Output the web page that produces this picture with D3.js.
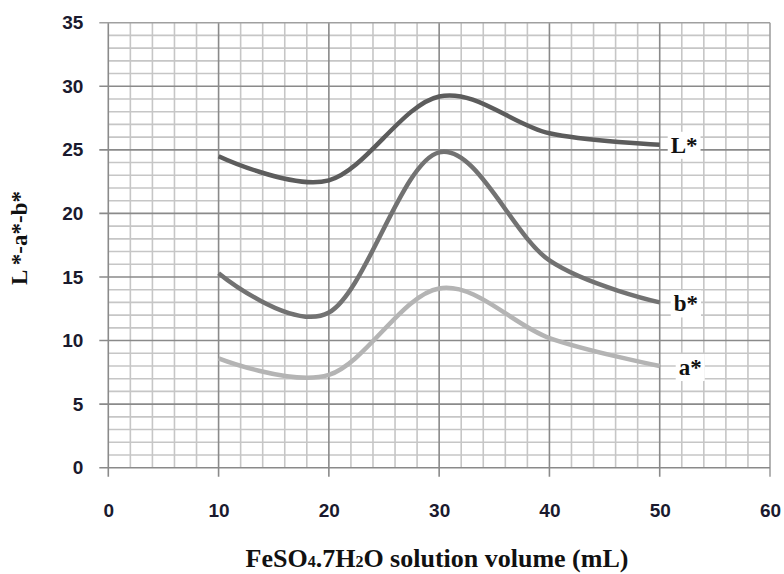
<!DOCTYPE html>
<html>
<head>
<meta charset="utf-8">
<script src="https://cdn.jsdelivr.net/npm/d3@7"></script>
<style>
	body { margin: 0; background: #fff; }
	svg { display: block; }
	.tick-label { font-family: "Liberation Sans", Arial, sans-serif; font-weight: bold; font-size: 19px; fill: #1a1a2e; }
	.title { font-family: "Liberation Serif", "Times New Roman", serif; font-weight: bold; fill: #111; }
</style>
</head>
<body>
<script>
// L*, a*, b* vs FeSO4.7H2O volume

var volumes = [10, 20, 30, 40, 50];
var lValues = [24.5, 22.6, 29.2, 26.3, 25.4];
var bValues = [15.3, 12.2, 24.8, 16.3, 13.0];
var aValues = [8.6, 7.3, 14.1, 10.2, 8.0];

var xTicks = [0, 10, 20, 30, 40, 50, 60];
var yTicks = [0, 5, 10, 15, 20, 25, 30, 35];

var seriesNames = ["L*", "b*", "a*"];
var seriesColors = ["#5c5c5c", "#727272", "#b4b4b4"];

var W = 784, H = 574;

var svg = d3.select("body").append("svg")
	.attr("width", W)
	.attr("height", H);

var x = d3.scaleLinear().domain([0, 60]).range([108.3, 770]);
var y = d3.scaleLinear().domain([0, 35]).range([467.7, 22.7]);

var grid = svg.append("g");

// minor grid
grid.selectAll(".vminor")
	.data(d3.range(0, 61, 2).filter(function(d) { return d % 10 !== 0; }))
	.enter().append("line")
	.attr("x1", function(d) { return x(d); })
	.attr("x2", function(d) { return x(d); })
	.attr("y1", y(0)).attr("y2", y(35))
	.style("stroke", "#c6c6c6").style("stroke-width", 1.6);

grid.selectAll(".hminor")
	.data(d3.range(0, 36, 1).filter(function(d) { return d % 5 !== 0; }))
	.enter().append("line")
	.attr("x1", x(0)).attr("x2", x(60))
	.attr("y1", function(d) { return y(d); })
	.attr("y2", function(d) { return y(d); })
	.style("stroke", "#c6c6c6").style("stroke-width", 1.6);

// major grid
grid.selectAll(".vmajor")
	.data(xTicks)
	.enter().append("line")
	.attr("x1", function(d) { return x(d); })
	.attr("x2", function(d) { return x(d); })
	.attr("y1", y(0) + 9).attr("y2", y(35))
	.style("stroke", function(d) { return d === 60 ? "#a0a0a0" : "#8a8a8a"; })
	.style("stroke-width", 1.6);

grid.selectAll(".hmajor")
	.data(yTicks)
	.enter().append("line")
	.attr("x1", x(0) - 9).attr("x2", x(60))
	.attr("y1", function(d) { return y(d); })
	.attr("y2", function(d) { return y(d); })
	.style("stroke", function(d) { return d === 35 ? "#a0a0a0" : "#8a8a8a"; })
	.style("stroke-width", 1.6);

// axes labels via d3 axes (lines hidden, grid draws them)
var xAxis = svg.append("g")
	.attr("transform", "translate(0," + y(0) + ")")
	.call(d3.axisBottom(x).tickValues(xTicks).tickSize(0).tickPadding(36));
var yAxis = svg.append("g")
	.attr("transform", "translate(" + x(0) + ",0)")
	.call(d3.axisLeft(y).tickValues(yTicks).tickSize(0).tickPadding(25));

[xAxis, yAxis].forEach(function(a) {
	a.select(".domain").remove();
	a.selectAll("text").attr("class", "tick-label").attr("fill", null);
});

// the curves
var line = d3.line()
	.x(function(d) { return x(d[0]); })
	.y(function(d) { return y(d[1]); })
	.curve(d3.curveCatmullRom.alpha(0));

var allSeries = [lValues, bValues, aValues];
var lastPoints = [];

allSeries.forEach(function(vals, i) {
	var pts = volumes.map(function(v, j) { return [v, vals[j]]; });
	svg.append("path")
		.datum(pts)
		.attr("d", line)
		.style("fill", "none")
		.style("stroke", seriesColors[i])
		.style("stroke-width", 4.5)
		.style("stroke-linecap", "butt");
	lastPoints.push(pts[pts.length - 1]);
});

// series labels with white boxes
var labelOffsets = [[11, 0], [14, 1], [19, 1]];
lastPoints.forEach(function(p, i) {
	var lx = x(p[0]) + labelOffsets[i][0],
		ly = y(p[1]) + labelOffsets[i][1];
	var g = svg.append("g").attr("transform", "translate(" + lx + "," + ly + ")");
	var t = g.append("text")
		.attr("class", "title")
		.attr("dy", "0.35em")
		.style("font-size", "23px")
		.text(seriesNames[i]);
	var bb = t.node().getBBox();
	g.insert("rect", "text")
		.attr("x", bb.x - 3).attr("y", bb.y - 1)
		.attr("width", bb.width + 6).attr("height", bb.height + 2)
		.style("fill", "#fff");
});

// axis titles
var xt = svg.append("text")
	.attr("class", "title")
	.attr("x", 437).attr("y", 567)
	.attr("text-anchor", "middle")
	.style("font-size", "26px");
xt.append("tspan").text("FeSO");
xt.append("tspan").text("4").style("font-size", "16px");
xt.append("tspan").text(".7H");
xt.append("tspan").text("2").style("font-size", "16px");
xt.append("tspan").text("O solution volume (mL)");

svg.append("text")
	.attr("class", "title")
	.attr("transform", "translate(27,238) rotate(-90)")
	.attr("text-anchor", "middle")
	.style("font-size", "23px")
	.text("L *-a*-b*");
</script>
</body>
</html>
